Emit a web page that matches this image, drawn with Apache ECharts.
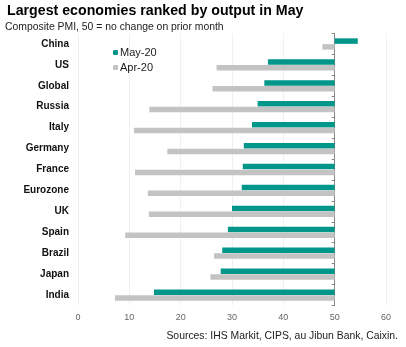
<!DOCTYPE html>
<html><head><meta charset="utf-8">
<script src="https://cdn.jsdelivr.net/npm/echarts@6/dist/echarts.min.js"></script>
<style>html,body{margin:0;padding:0;background:#fff}#c{width:406px;height:347px}</style>
</head><body><div id="c"></div>
<script>
const categories = ['China','US','Global','Russia','Italy','Germany','France','Eurozone','UK','Spain','Brazil','Japan','India'];
const may20 = [54.5, 37.0, 36.3, 35.0, 33.9, 32.3, 32.1, 31.9, 30.0, 29.2, 28.1, 27.8, 14.8];
const apr20 = [47.6, 27.0, 26.2, 13.9, 10.9, 17.4, 11.1, 13.6, 13.8, 9.2, 26.5, 25.8, 7.2];
const xTicks = [0, 10, 20, 30, 40, 50, 60];
const BASE = 50;

const baseOf = arr => arr.map(v => Math.min(v, BASE));
const lenOf = arr => arr.map(v => Math.abs(v - BASE));

const FONT = '"Liberation Sans", Arial, sans-serif';
const chart = echarts.init(document.getElementById('c'));
const gridLeft = 78, gridWidth = 308;
chart.setOption({
  animation: false,
  textStyle: { fontFamily: FONT },
  title: [
    { text: 'Largest economies ranked by output in May', left: 7, top: 4, padding: 0,
      textStyle: { fontFamily: FONT, fontSize: 14.2, fontWeight: 'bold', color: '#000' } },
    { text: 'Composite PMI, 50 = no change on prior month', left: 5, top: 22, padding: 0,
      textStyle: { fontFamily: FONT, fontSize: 10.4, fontWeight: 'normal', color: '#222' } },
    { text: 'Sources: IHS Markit, CIPS, au Jibun Bank, Caixin.', right: 8, top: 331, padding: 0,
      textStyle: { fontFamily: FONT, fontSize: 10.4, fontWeight: 'normal', color: '#222' } }
  ],
  legend: {
    orient: 'vertical', left: 108, top: 42, itemWidth: 5, itemHeight: 5, itemGap: 4,
    data: ['May-20', 'Apr-20'],
    textStyle: { fontFamily: FONT, fontSize: 11, color: '#222', padding: [0,0,0,-3] }
  },
  grid: { left: gridLeft, width: gridWidth, top: 33.5, bottom: 41.5 },
  xAxis: {
    type: 'value', min: xTicks[0], max: xTicks[xTicks.length-1], interval: 10,
    axisLine: { show: false }, axisTick: { show: false },
    splitLine: { show: true, lineStyle: { color: '#f0f0f0', width: 1 } },
    axisLabel: { fontFamily: FONT, fontSize: 9, color: '#666', margin: 8 }
  },
  yAxis: [
    { type: 'category', data: categories, inverse: true,
      axisLine: { show: false }, axisTick: { show: false },
      axisLabel: { fontFamily: FONT, fontSize: 10, fontWeight: 'bold', color: '#111', margin: 9 } },
    { type: 'category', data: categories, inverse: true, position: 'left',
      offset: -gridWidth * (BASE - xTicks[0]) / (xTicks[6] - xTicks[0]),
      axisLine: { show: true, lineStyle: { color: '#888', width: 1 } },
      axisTick: { show: true, length: 3, lineStyle: { color: '#888' } },
      axisLabel: { show: false } }
  ],
  series: [
    { name: 'mayBase', type: 'bar', stack: 'may', data: baseOf(may20), barWidth: 5.5, barGap: '5%',
      itemStyle: { color: 'rgba(0,0,0,0)' }, silent: true, z: 1 },
    { name: 'May-20', type: 'bar', stack: 'may', data: lenOf(may20), barWidth: 5.5,
      itemStyle: { color: '#00968a' }, z: 2 },
    { name: 'aprBase', type: 'bar', stack: 'apr', data: baseOf(apr20), barWidth: 5.5, barGap: '5%',
      itemStyle: { color: 'rgba(0,0,0,0)' }, silent: true, z: 1 },
    { name: 'Apr-20', type: 'bar', stack: 'apr', data: lenOf(apr20), barWidth: 5.5,
      itemStyle: { color: '#c3c3c3' }, z: 2 }
  ]
});
</script></body></html>
